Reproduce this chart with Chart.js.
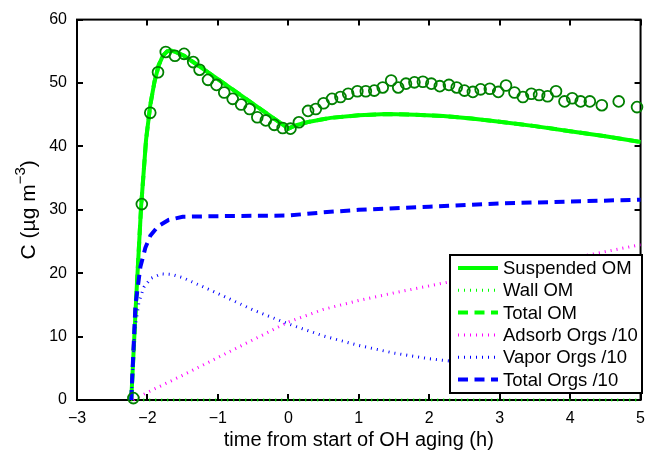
<!DOCTYPE html>
<html>
<head>
<meta charset="utf-8">
<script src="https://cdn.jsdelivr.net/npm/chart.js@4/dist/chart.umd.min.js"></script>
<style>
html,body{margin:0;padding:0;background:#fff;}
#wrap{width:654px;height:454px;}
</style>
</head>
<body>
<div id="wrap"><canvas id="c" width="654" height="454"></canvas></div>
<script>
// ---- axis ticks ----
const xTicks = [-3, -2, -1, 0, 1, 2, 3, 4, 5];
const yTicks = [0, 10, 20, 30, 40, 50, 60];

// ---- observed suspended OM (circles) ----
const obsTime = [-2.20,-2.08,-1.96,-1.85,-1.74,-1.61,-1.48,-1.35,-1.26,-1.14,-1.02,-0.91,-0.79,-0.67,-0.55,-0.44,-0.32,-0.20,-0.08,0.03,0.15,0.28,0.39,0.50,0.62,0.74,0.85,0.98,1.10,1.22,1.34,1.46,1.56,1.67,1.79,1.91,2.03,2.15,2.28,2.39,2.50,2.62,2.73,2.86,2.98,3.09,3.21,3.33,3.45,3.56,3.68,3.80,3.92,4.03,4.15,4.28,4.45,4.69,4.95];
const obsOM   = [0.3,30.9,45.3,51.7,54.9,54.3,54.6,53.3,52.1,50.5,49.7,48.5,47.5,46.6,45.9,44.6,44.1,43.4,42.9,42.8,43.8,45.6,45.9,46.8,47.5,47.8,48.3,48.7,48.7,48.8,49.3,50.4,49.3,49.9,50.1,50.2,49.9,49.5,49.7,49.3,48.8,48.6,49.0,49.1,48.6,49.6,48.5,47.8,48.3,48.1,47.9,48.7,47.1,47.6,47.1,47.1,46.5,47.1,46.2];

// ---- model: suspended OM / total OM ----
const omTime = [-2.23,-2.16,-2.09,-2.02,-1.96,-1.90,-1.84,-1.78,-1.72,-1.66,-1.58,-1.48,-1.00,-0.50,-0.10,0.00,0.10,0.30,0.60,1.00,1.40,1.80,2.20,2.60,3.00,3.50,4.00,4.50,5.00];
const suspendedOM = [0,16,30.5,41,46.5,50.2,52.8,54.3,55.0,55.1,54.8,54.3,50.6,46.7,43.6,42.8,43.3,43.9,44.5,44.9,45.1,45.0,44.8,44.4,43.9,43.2,42.4,41.6,40.7];
const totalOM = [0,16,30.5,41,46.5,50.2,52.8,54.3,55.0,55.1,54.8,54.3,50.6,46.7,43.6,42.8,43.3,43.9,44.5,44.9,45.1,45.0,44.8,44.4,43.9,43.2,42.4,41.6,40.7];

// ---- model: wall OM ----
const wallTime = [-2.23, 5.00];
const wallOM = [0, 0];

// ---- model: organics /10 ----
const totTime = [-2.23,-2.17,-2.10,-2.03,-1.96,-1.85,-1.70,-1.50,-1.00,0.00,0.50,1.00,2.00,3.00,4.00,5.00];
const totalOrgs10 = [0,15,21,24,25.9,27.4,28.4,28.9,29.0,29.1,29.6,30.0,30.5,31.0,31.3,31.6];

const vapTime = [-2.23,-2.18,-2.12,-2.05,-1.95,-1.80,-1.65,-1.50,-1.00,-0.50,0.00,0.50,1.00,1.50,2.00,2.50,3.00,4.00,5.00];
const vaporOrgs10 = [0,11,15.5,17.8,19.2,19.9,19.8,19.3,16.8,14.2,12.0,10.1,8.6,7.4,6.5,5.9,5.4,4.6,4.0];

const adsTime = [-2.20,-2.00,-1.50,-1.00,-0.50,0.00,0.50,1.00,1.50,2.00,2.50,3.00,3.50,4.00,4.50,5.00];
const adsorbOrgs10 = [0,1.2,3.9,6.7,9.5,12.3,14.3,15.7,16.9,18.0,19.1,20.1,21.1,22.3,23.4,24.5];

// ---- labels ----
const xTitle = 'time from start of OH aging (h)';
const yTitleBase = 'C (\u00b5g m';
const yTitleSup = '\u22123';
const yTitleEnd = ')';

const pts = (xs, ys) => xs.map((x, i) => ({x: x, y: ys[i]}));

const GREEN = '#00ff00', DKGREEN = '#008000', BLUE = '#0000ff', MAGENTA = '#ff00ff';
const FONT = '"Liberation Sans", Arial, Helvetica, sans-serif';

const lineDefaults = {showLine: true, pointRadius: 0, tension: 0, fill: false, clip: false, borderCapStyle: 'butt'};

const datasets = [
  {label: 'obs', data: pts(obsTime, obsOM), showLine: false, pointRadius: 5.4, pointBorderWidth: 1.8,
   pointBorderColor: DKGREEN, pointBackgroundColor: 'rgba(0,0,0,0)', borderColor: DKGREEN, clip: false},
  Object.assign({label: 'Total Orgs /10', data: pts(totTime, totalOrgs10), borderColor: BLUE, borderWidth: 4, borderDash: [10, 6.5]}, lineDefaults),
  Object.assign({label: 'Vapor Orgs /10', data: pts(vapTime, vaporOrgs10), borderColor: BLUE, borderWidth: 3, borderDash: [1, 5]}, lineDefaults),
  Object.assign({label: 'Adsorb Orgs /10', data: pts(adsTime, adsorbOrgs10), borderColor: MAGENTA, borderWidth: 3, borderDash: [1, 5]}, lineDefaults),
  Object.assign({label: 'Total OM', data: pts(omTime, totalOM), borderColor: GREEN, borderWidth: 4, borderDash: [10, 6.5]}, lineDefaults),
  Object.assign({label: 'Wall OM', data: pts(wallTime, wallOM), borderColor: GREEN, borderWidth: 3, borderDash: [1, 5]}, lineDefaults),
  Object.assign({label: 'Suspended OM', data: pts(omTime, suspendedOM), borderColor: GREEN, borderWidth: 4}, lineDefaults)
];
const legendOrder = ['Suspended OM', 'Wall OM', 'Total OM', 'Adsorb Orgs /10', 'Vapor Orgs /10', 'Total Orgs /10'];

const framePlugin = {
  id: 'frame',
  beforeDatasetsDraw(chart) {
    const {ctx, chartArea: a, scales: {x, y}} = chart;
    ctx.save();
    ctx.strokeStyle = '#000';
    ctx.lineWidth = 2;
    ctx.beginPath();
    xTicks.forEach(v => {
      const px = Math.round(x.getPixelForValue(v));
      ctx.moveTo(px, a.bottom); ctx.lineTo(px, a.bottom - 6);
      ctx.moveTo(px, a.top); ctx.lineTo(px, a.top + 6);
    });
    yTicks.forEach(v => {
      const py = Math.round(y.getPixelForValue(v));
      ctx.moveTo(a.left, py); ctx.lineTo(a.left + 6, py);
      ctx.moveTo(a.right, py); ctx.lineTo(a.right - 6, py);
    });
    ctx.stroke();
    ctx.strokeRect(a.left, a.top, a.right - a.left, a.bottom - a.top);
    ctx.restore();
  },
  afterDraw(chart) {
    const {ctx, chartArea: a} = chart;
    ctx.save();
    ctx.fillStyle = '#000';
    ctx.font = '20px ' + FONT;
    ctx.textAlign = 'center';
    ctx.textBaseline = 'middle';
    ctx.fillText(xTitle, (a.left + a.right) / 2, 440);
    // y title (rotated, with superscript)
    ctx.save();
    ctx.translate(27, (a.top + a.bottom) / 2);
    ctx.rotate(-Math.PI / 2);
    ctx.font = '21px ' + FONT;
    const w1 = ctx.measureText(yTitleBase).width;
    const w3 = ctx.measureText(yTitleEnd).width;
    ctx.font = '15px ' + FONT;
    const w2 = ctx.measureText(yTitleSup).width;
    let sx = -(w1 + w2 + w3) / 2;
    ctx.textAlign = 'left';
    ctx.textBaseline = 'alphabetic';
    ctx.font = '21px ' + FONT;
    ctx.fillText(yTitleBase, sx, 8);
    ctx.font = '15px ' + FONT;
    ctx.fillText(yTitleSup, sx + w1, -2);
    ctx.font = '21px ' + FONT;
    ctx.fillText(yTitleEnd, sx + w1 + w2, 8);
    ctx.restore();

    // legend box
    const lx = 450, ly = 255, lw = 192, lh = 138;
    ctx.fillStyle = '#fff';
    ctx.fillRect(lx, ly, lw, lh);
    ctx.strokeStyle = '#000';
    ctx.lineWidth = 2;
    ctx.strokeRect(lx, ly, lw, lh);
    const rowH = 22.3;
    legendOrder.forEach((lab, i) => {
      const ds = chart.data.datasets.find(d => d.label === lab);
      const cy = ly + 13 + i * rowH;
      ctx.save();
      ctx.strokeStyle = ds.borderColor;
      ctx.lineWidth = ds.borderWidth;
      ctx.setLineDash(ds.borderDash || []);
      ctx.lineCap = 'butt';
      ctx.beginPath();
      ctx.moveTo(lx + 8, cy);
      ctx.lineTo(lx + 48, cy);
      ctx.stroke();
      ctx.restore();
      ctx.fillStyle = '#000';
      ctx.font = '18.5px ' + FONT;
      ctx.textAlign = 'left';
      ctx.textBaseline = 'middle';
      ctx.fillText(lab, lx + 53, cy + 1);
    });
    ctx.restore();
  }
};

new Chart(document.getElementById('c'), {
  type: 'scatter',
  data: {datasets: datasets},
  options: {
    responsive: false,
    animation: false,
    devicePixelRatio: 1,
    layout: {padding: {left: 0, right: 7, top: 16, bottom: 0}},
    plugins: {legend: {display: false}, tooltip: {enabled: false}},
    scales: {
      x: {
        type: 'linear', min: -3, max: 5,
        afterBuildTicks: s => { s.ticks = xTicks.map(v => ({value: v})); },
        afterFit: s => { s.height = 54; },
        grid: {display: false, drawTicks: false},
        border: {display: false},
        ticks: {padding: 9, color: '#000', font: {size: 16, family: FONT},
                callback: v => String(v).replace('-', '\u2212'), maxRotation: 0, autoSkip: false}
      },
      y: {
        type: 'linear', min: 0, max: 60,
        afterBuildTicks: s => { s.ticks = yTicks.map(v => ({value: v})); },
        afterFit: s => { s.width = 77; },
        grid: {display: false, drawTicks: false},
        border: {display: false},
        ticks: {padding: 10, color: '#000', font: {size: 16, family: FONT}}
      }
    }
  },
  plugins: [framePlugin]
});
</script>
</body>
</html>
